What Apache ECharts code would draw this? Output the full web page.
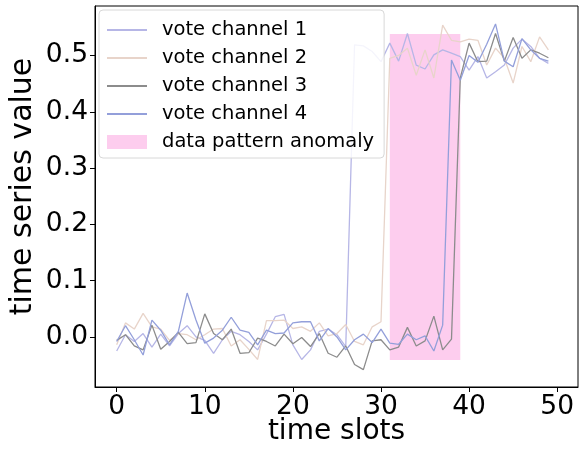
<!DOCTYPE html>
<html>
<head>
<meta charset="utf-8">
<script src="https://cdn.jsdelivr.net/npm/echarts@6/dist/echarts.min.js"></script>
<style>
html,body{margin:0;padding:0;background:#fff;}
#chart{width:586px;height:454px;}
</style>
</head>
<body>
<div id="chart"></div>
<script>
var timeSlots = [];
for (var t = 0; t < 50; t++) timeSlots.push(t);

var channel1 = [-0.025,0.004,-0.008,0.006,-0.018,0.005,-0.016,0.006,0.020,0.000,
  -0.006,-0.029,-0.005,0.010,0.004,-0.008,-0.023,0.005,0.036,0.040,
  -0.014,-0.040,-0.023,0.010,0.014,0.004,-0.017,0.519,0.517,0.507,
  0.489,0.522,0.490,0.539,0.483,0.476,0.501,0.510,0.504,0.498,
  0.474,0.498,0.460,0.471,0.483,0.513,0.529,0.516,0.495,0.486];
var channel2 = [-0.014,0.025,0.014,0.042,0.018,0.014,-0.006,0.006,0.004,-0.005,
  0.004,0.014,0.015,-0.016,-0.005,-0.022,-0.040,0.029,0.029,0.030,
  0.015,0.018,0.010,0.025,0.002,0.006,0.022,-0.008,-0.014,0.018,
  0.027,0.495,0.500,0.513,0.465,0.510,0.460,0.554,0.527,0.524,
  0.529,0.527,0.483,0.513,0.495,0.451,0.516,0.489,0.533,0.510];
var channel3 = [-0.006,0.004,-0.016,-0.023,0.021,-0.022,-0.008,0.008,-0.012,-0.010,
  0.041,0.006,-0.005,0.014,-0.029,-0.028,-0.002,-0.008,-0.016,0.005,
  -0.012,-0.001,-0.017,0.006,-0.029,-0.036,-0.016,-0.049,-0.058,-0.007,
  -0.005,-0.023,-0.018,0.017,-0.016,-0.007,0.037,-0.023,-0.004,0.460,
  0.522,0.489,0.490,0.539,0.490,0.532,0.495,0.510,0.504,0.496];
var channel4 = [-0.008,0.020,-0.005,-0.032,0.030,0.012,-0.014,0.010,0.078,0.030,
  -0.011,-0.002,0.012,0.035,0.012,0.008,-0.014,0.012,0.006,0.007,
  0.025,0.027,0.027,-0.007,0.015,0.000,-0.023,-0.005,0.005,-0.010,
  0.014,-0.011,-0.013,0.005,-0.005,0.002,-0.025,0.021,0.492,0.456,
  0.500,0.488,0.520,0.556,0.490,0.480,0.530,0.510,0.495,0.490];

var seriesNames = ['vote channel 1','vote channel 2','vote channel 3','vote channel 4'];
var anomalyName = 'data pattern anomaly';
var anomalyX = [31, 39];
var anomalyY = [-0.041, 0.538];
var xTicks = [0,10,20,30,40,50];
var yTicks = [0.0,0.1,0.2,0.3,0.4,0.5];

var colors = ['#b6b6e6','#e8d4ca','#8c8c8c','#939fda'];
var pink = '#fdcdee';
var allData = [channel1, channel2, channel3, channel4];

function pairs(arr){ return arr.map(function(v,i){ return [timeSlots[i], v]; }); }

var series = [{
  name: anomalyName, type: 'line', data: [], symbol: 'none',
  itemStyle: {color: pink}, lineStyle: {color: pink},
  markArea: {silent: true, itemStyle: {color: pink, opacity: 1},
    data: [[{xAxis: anomalyX[0], yAxis: anomalyY[0]}, {xAxis: anomalyX[1], yAxis: anomalyY[1]}]]},
  z: 1
}];
for (var k = 0; k < 4; k++) {
  series.push({
    name: seriesNames[k], type: 'line', data: pairs(allData[k]),
    symbol: 'none', showSymbol: false,
    lineStyle: {color: colors[k], width: 1.3},
    itemStyle: {color: colors[k]},
    z: 3
  });
}

var hiddenSymbol = {color: 'rgba(0,0,0,0)', borderWidth: 0, opacity: 0};
var font = 'DejaVu Sans';
var chart = echarts.init(document.getElementById('chart'), null, {renderer: 'canvas'});
chart.setOption({
  animation: false,
  backgroundColor: '#fff',
  grid: {left: 95, right: 8, top: 6, bottom: 67, show: true, borderColor: '#000', borderWidth: 1,
    containLabel: false, outerBoundsMode: 'none'},
  legend: {
    orient: 'vertical', left: 99, top: 10,
    padding: [10, 10, 6, 7],
    itemWidth: 40, itemHeight: 14, itemGap: 8,
    borderColor: '#d8d8d8', borderWidth: 1, borderRadius: 4,
    backgroundColor: 'rgba(255,255,255,0.85)',
    textStyle: {fontFamily: font, fontSize: 19.5, color: '#000', padding: [0,0,0,10]},
    data: [
      {name: seriesNames[0], itemStyle: hiddenSymbol},
      {name: seriesNames[1], itemStyle: hiddenSymbol},
      {name: seriesNames[2], itemStyle: hiddenSymbol},
      {name: seriesNames[3], itemStyle: hiddenSymbol},
      {name: anomalyName, icon: 'rect', itemStyle: {color: pink}}
    ]
  },
  xAxis: {
    type: 'value', min: -2.46, max: 52.36,
    name: 'time slots', nameLocation: 'middle', nameGap: 31, nameMoveOverlap: false,
    nameTextStyle: {fontFamily: font, fontSize: 28, color: '#000'},
    axisLine: {show: true, onZero: false, lineStyle: {color: '#000', width: 1}},
    axisTick: {show: true, length: 5, lineStyle: {color: '#000'}, customValues: xTicks},
    axisLabel: {fontFamily: font, fontSize: 26.5, color: '#000', margin: 7, customValues: xTicks},
    splitLine: {show: false}
  },
  yAxis: {
    type: 'value', min: -0.0889, max: 0.5879,
    name: 'time series value', nameLocation: 'middle', nameGap: 57, nameMoveOverlap: false,
    nameTextStyle: {fontFamily: font, fontSize: 30, color: '#000', padding: [0,0,0,20]},
    axisLine: {show: true, onZero: false, lineStyle: {color: '#000', width: 1}},
    axisTick: {show: true, length: 5, lineStyle: {color: '#000'}, customValues: yTicks},
    axisLabel: {fontFamily: font, fontSize: 26.5, color: '#000', margin: 7, customValues: yTicks,
      formatter: function(v){ return v.toFixed(1); }},
    splitLine: {show: false}
  },
  series: series
});
</script>
</body>
</html>
